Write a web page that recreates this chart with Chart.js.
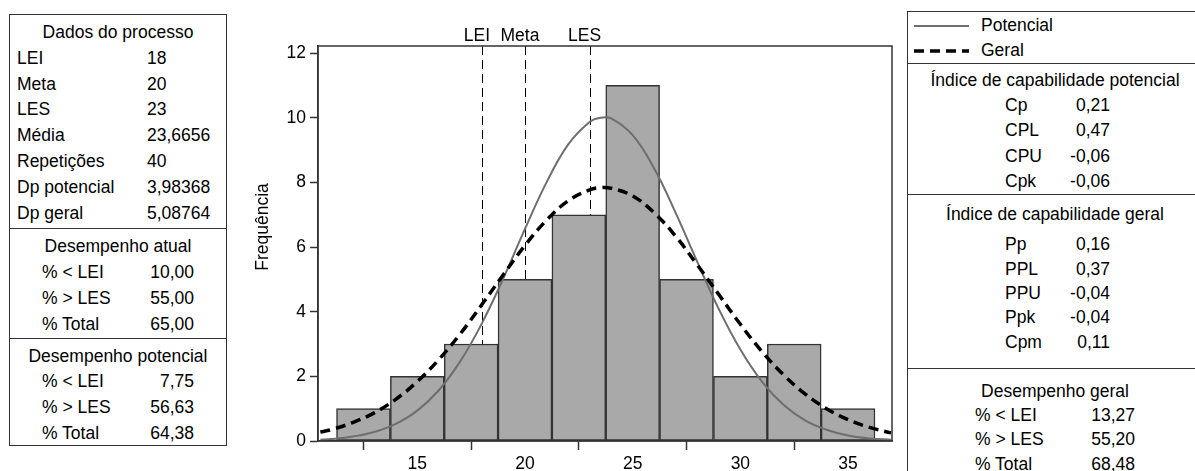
<!DOCTYPE html>
<html>
<head>
<meta charset="utf-8">
<script src="https://cdn.jsdelivr.net/npm/chart.js@4.4.1/dist/chart.umd.min.js"></script>
<style>
    html, body { margin: 0; padding: 0; background: #fff; }
    body {
        width: 1195px; height: 471px; overflow: hidden; position: relative;
        font-family: 'Liberation Sans', Arial, sans-serif; font-size: 17.5px; color: #000;
    }
    #chart { position: absolute; left: 0; top: 0; }
    .box { position: absolute; background: #fff; border: 1px solid #333; box-sizing: border-box; }
    .sec { border-top: 1px solid #333; }
    .sec:first-child { border-top: none; }
    .row { display: flex; white-space: nowrap; }
    .head { text-align: center; white-space: nowrap; }
    .val-r { text-align: right; }

    /* left box */
    #left-box { left: 9px; top: 14px; width: 218px; height: 432px; }
    #left-box .sec1 { padding: 5px 0 2px 7px; line-height: 25.8px; }
    #left-box .sec1 .head { margin-left: -7px; }
    #left-box .sec1 .lbl { width: 130px; }
    #left-box .perf { padding: 5px 0 0 0; line-height: 25.8px; }
    #left-box .perf .row { padding-left: 32px; }
    #left-box .perf .lbl { width: 90px; }
    #left-box .perf .val { width: 62px; text-align: right; }

    /* right box */
    #right-box { left: 907px; top: 11px; width: 296px; height: 470px; }
    #right-box .legend { padding-top: 1px; line-height: 25px; }
    #right-box .legend .row { align-items: center; padding-left: 6px; }
    #right-box .legend svg { margin-right: 12px; }
    #right-box .idx1 { padding-top: 4px; line-height: 25.2px; }
    #right-box .idx2 { padding: 7px 0 14px 0; line-height: 24.3px; }
    #right-box .idx2 .head { margin-bottom: 6px; }
    #right-box .idx .row { padding-left: 97px; }
    #right-box .idx .lbl { width: 60px; }
    #right-box .idx .val { width: 45px; text-align: right; }
    #right-box .perf { padding-top: 10px; line-height: 24.3px; }
    #right-box .perf .row { padding-left: 67px; }
    #right-box .perf .lbl { width: 100px; }
    #right-box .perf .val { width: 60px; text-align: right; }
</style>
</head>
<body>
<canvas id="chart" width="1195" height="471"></canvas>

<div class="box" id="left-box">
    <div class="sec sec1">
        <div class="head">Dados do processo</div>
        <div class="row"><span class="lbl">LEI</span><span>18</span></div>
        <div class="row"><span class="lbl">Meta</span><span>20</span></div>
        <div class="row"><span class="lbl">LES</span><span>23</span></div>
        <div class="row"><span class="lbl">Média</span><span>23,6656</span></div>
        <div class="row"><span class="lbl">Repetições</span><span>40</span></div>
        <div class="row"><span class="lbl">Dp potencial</span><span>3,98368</span></div>
        <div class="row"><span class="lbl">Dp geral</span><span>5,08764</span></div>
    </div>
    <div class="sec perf">
        <div class="head">Desempenho atual</div>
        <div class="row"><span class="lbl">% &lt; LEI</span><span class="val">10,00</span></div>
        <div class="row"><span class="lbl">% &gt; LES</span><span class="val">55,00</span></div>
        <div class="row"><span class="lbl">% Total</span><span class="val">65,00</span></div>
    </div>
    <div class="sec perf">
        <div class="head">Desempenho potencial</div>
        <div class="row"><span class="lbl">% &lt; LEI</span><span class="val">7,75</span></div>
        <div class="row"><span class="lbl">% &gt; LES</span><span class="val">56,63</span></div>
        <div class="row"><span class="lbl">% Total</span><span class="val">64,38</span></div>
    </div>
</div>

<div class="box" id="right-box">
    <div class="sec legend">
        <div class="row">
            <svg width="55" height="6"><line x1="0" y1="3" x2="55" y2="3" stroke="#6e6e6e" stroke-width="2"/></svg>
            <span>Potencial</span>
        </div>
        <div class="row">
            <svg width="55" height="6"><line x1="0" y1="3" x2="55" y2="3" stroke="#000" stroke-width="3.5" stroke-dasharray="10,6"/></svg>
            <span>Geral</span>
        </div>
    </div>
    <div class="sec idx idx1">
        <div class="head">Índice de capabilidade potencial</div>
        <div class="row"><span class="lbl">Cp</span><span class="val">0,21</span></div>
        <div class="row"><span class="lbl">CPL</span><span class="val">0,47</span></div>
        <div class="row"><span class="lbl">CPU</span><span class="val">-0,06</span></div>
        <div class="row"><span class="lbl">Cpk</span><span class="val">-0,06</span></div>
    </div>
    <div class="sec idx idx2">
        <div class="head">Índice de capabilidade geral</div>
        <div class="row"><span class="lbl">Pp</span><span class="val">0,16</span></div>
        <div class="row"><span class="lbl">PPL</span><span class="val">0,37</span></div>
        <div class="row"><span class="lbl">PPU</span><span class="val">-0,04</span></div>
        <div class="row"><span class="lbl">Ppk</span><span class="val">-0,04</span></div>
        <div class="row"><span class="lbl">Cpm</span><span class="val">0,11</span></div>
    </div>
    <div class="sec perf">
        <div class="head">Desempenho geral</div>
        <div class="row"><span class="lbl">% &lt; LEI</span><span class="val">13,27</span></div>
        <div class="row"><span class="lbl">% &gt; LES</span><span class="val">55,20</span></div>
        <div class="row"><span class="lbl">% Total</span><span class="val">68,48</span></div>
    </div>
</div>

<script>
// ============================================================================
// Data
// ============================================================================
const binCenters = [12.5, 15, 17.5, 20, 22.5, 25, 27.5, 30, 32.5, 35];
const binCounts = [1, 2, 3, 5, 7, 11, 5, 2, 3, 1];

// Fitted curves, sampled along x
const curveX = [10.5, 11, 12, 13, 14, 15, 16, 17, 18, 19, 20, 21, 22, 23, 23.5, 24,
    25, 26, 27, 28, 29, 30, 31, 32, 33, 34, 35, 36, 37];
const potencialY = [0.04, 0.06, 0.14, 0.28, 0.53, 0.94, 1.57, 2.47, 3.64, 5.04, 6.56, 8.00, 9.17, 9.87, 10.00, 9.98,
    9.46, 8.43, 7.05, 5.54, 4.08, 2.83, 1.84, 1.12, 0.64, 0.35, 0.17, 0.08, 0.04];
const geralY = [0.28, 0.35, 0.57, 0.87, 1.29, 1.84, 2.52, 3.32, 4.22, 5.15, 6.05, 6.83, 7.43, 7.77, 7.84, 7.82,
    7.58, 7.06, 6.33, 5.45, 4.53, 3.61, 2.77, 2.05, 1.46, 1.00, 0.66, 0.42, 0.25];

// Spec limits
const specLabels = ['LEI', 'Meta', 'LES'];
const specValues = [18, 20, 23];

// Axis ticks
const xTicks = [15, 20, 25, 30, 35];
const yTicks = [0, 2, 4, 6, 8, 10, 12];
const yTitle = 'Frequência';

// ============================================================================
// Chart
// ============================================================================
const FONT = "'Liberation Sans', Arial, sans-serif";
const AXIS_COLOR = '#333';

const toPoints = (xs, ys) => xs.map((x, i) => ({ x: x, y: ys[i] }));

// Dashed spec lines behind bars + labels above the plot
const specLinesPlugin = {
    id: 'specLines',
    beforeDatasetsDraw(chart) {
        const { ctx, chartArea, scales } = chart;
        ctx.save();
        ctx.strokeStyle = '#000';
        ctx.lineWidth = 1;
        ctx.setLineDash([9, 5]);
        specValues.forEach(v => {
            const px = Math.round(scales.x.getPixelForValue(v)) + 0.5;
            ctx.beginPath();
            ctx.moveTo(px, chartArea.top);
            ctx.lineTo(px, chartArea.bottom);
            ctx.stroke();
        });
        ctx.restore();
    },
    afterDraw(chart) {
        const { ctx, chartArea, scales } = chart;
        ctx.save();
        ctx.font = `17.5px ${FONT}`;
        ctx.fillStyle = '#000';
        ctx.textAlign = 'center';
        ctx.textBaseline = 'middle';
        specValues.forEach((v, i) => {
            ctx.fillText(specLabels[i], scales.x.getPixelForValue(v) - 5, chartArea.top - 10);
        });

        // y axis title
        ctx.translate(263, 227);
        ctx.rotate(-Math.PI / 2);
        ctx.fillText(yTitle, 0, 0);
        ctx.restore();
    }
};

// Frame round the plot
const framePlugin = {
    id: 'frame',
    afterDatasetsDraw(chart) {
        const { ctx, chartArea } = chart;
        ctx.save();
        ctx.strokeStyle = AXIS_COLOR;
        ctx.lineWidth = 1.5;
        ctx.strokeRect(chartArea.left, chartArea.top, chartArea.right - chartArea.left, chartArea.bottom - chartArea.top);
        ctx.restore();
    }
};

const ctx = document.getElementById('chart').getContext('2d');

new Chart(ctx, {
    type: 'bar',
    data: {
        datasets: [
            {
                type: 'line',
                label: 'Geral',
                data: toPoints(curveX, geralY),
                borderColor: '#000',
                borderWidth: 3.5,
                borderDash: [10, 6],
                pointRadius: 0,
                tension: 0.4,
                fill: false,
                order: 0
            },
            {
                type: 'line',
                label: 'Potencial',
                data: toPoints(curveX, potencialY),
                borderColor: '#6e6e6e',
                borderWidth: 2,
                pointRadius: 0,
                tension: 0.4,
                fill: false,
                order: 1
            },
            {
                type: 'bar',
                label: 'Frequência',
                data: toPoints(binCenters, binCounts),
                backgroundColor: '#a9a9a9',
                borderColor: '#333',
                borderWidth: 1.5,
                borderSkipped: false,
                barPercentage: 1,
                categoryPercentage: 1,
                order: 2
            }
        ]
    },
    options: {
        responsive: false,
        animation: false,
        devicePixelRatio: 1,
        layout: { padding: { left: 258, right: 303, top: 46, bottom: 0 } },
        plugins: {
            legend: { display: false },
            tooltip: { enabled: false }
        },
        scales: {
            x: {
                type: 'linear',
                min: 10.39,
                max: 37.04,
                offset: false,
                afterBuildTicks: axis => { axis.ticks = xTicks.map(v => ({ value: v })); },
                afterFit: scale => { scale.height = 30; },
                grid: {
                    drawOnChartArea: false,
                    drawTicks: true,
                    tickLength: 9,
                    tickColor: AXIS_COLOR,
                    tickWidth: 1.5
                },
                border: { display: true, color: AXIS_COLOR, width: 1.5 },
                ticks: {
                    color: '#000',
                    padding: 4,
                    maxRotation: 0,
                    font: { family: FONT, size: 17.5 }
                }
            },
            y: {
                type: 'linear',
                min: 0,
                max: 12.22,
                afterBuildTicks: axis => { axis.ticks = yTicks.map(v => ({ value: v })); },
                afterFit: scale => { scale.width = 60; },
                grid: {
                    drawOnChartArea: false,
                    drawTicks: true,
                    tickLength: 8,
                    tickColor: AXIS_COLOR,
                    tickWidth: 1.5
                },
                border: { display: true, color: AXIS_COLOR, width: 1.5 },
                ticks: {
                    color: '#000',
                    padding: 4,
                    font: { family: FONT, size: 17.5 }
                }
            }
        }
    },
    plugins: [specLinesPlugin, framePlugin]
});
</script>
</body>
</html>
